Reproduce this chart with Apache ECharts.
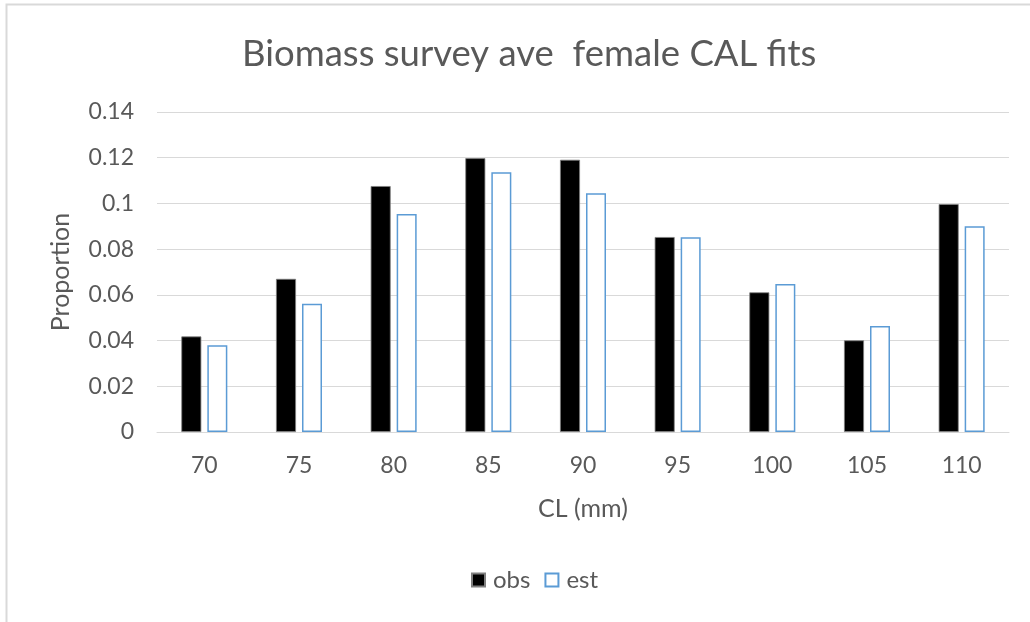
<!DOCTYPE html>
<html>
<head>
<meta charset="utf-8">
<script src="https://cdn.jsdelivr.net/npm/echarts@6/dist/echarts.min.js"></script>
<style>
html,body{margin:0;padding:0;background:#fff;}
#chart{width:1030px;height:622px;}
</style>
</head>
<body>
<div id="chart"></div>
<script>
const categories = ['70','75','80','85','90','95','100','105','110'];
const obs = [0.0418, 0.0670, 0.1076, 0.1198, 0.1191, 0.0853, 0.0611, 0.0401, 0.0997];
const est = [0.0380, 0.0561, 0.0954, 0.1136, 0.1044, 0.0852, 0.0647, 0.0464, 0.0900];
const yTicks = [0, 0.02, 0.04, 0.06, 0.08, 0.1, 0.12, 0.14];

const FONT = 'Lato';
const chart = echarts.init(document.getElementById('chart'));
chart.setOption({
  backgroundColor: '#fff',
  animation: false,
  title: {
    text: 'Biomass survey ave  female CAL fits',
    left: 237, top: 31,
    textStyle: {fontFamily: FONT, fontSize: 36.5, fontWeight: 'normal', color: '#595959'}
  },
  graphic: [{
    type: 'rect', shape: {x: 6.5, y: 4.5, width: 1040, height: 640},
    style: {fill: 'none', stroke: '#d9d9d9', lineWidth: 2}, silent: true
  }],
  legend: {
    bottom: 25, left: 466, itemWidth: 13, itemHeight: 13, itemGap: 14,
    textStyle: {fontFamily: FONT, fontSize: 24, color: '#595959', padding: [0, 0, 0, 3]},
    data: [{name: 'obs', icon: 'rect'}, {name: 'est', icon: 'rect'}]
  },
  grid: {left: 157, right: 21, top: 112, bottom: 190},
  xAxis: {
    type: 'category', data: categories,
    name: 'CL (mm)', nameLocation: 'middle', nameGap: 64,
    nameTextStyle: {fontFamily: FONT, fontSize: 25, color: '#595959'},
    axisLine: {lineStyle: {color: '#d9d9d9', width: 1}},
    axisTick: {show: false},
    axisLabel: {fontFamily: FONT, fontSize: 23, color: '#595959', margin: 22}
  },
  yAxis: {
    type: 'value', min: 0, max: 0.14, interval: 0.02,
    name: 'Proportion', nameLocation: 'middle', nameGap: 84, nameRotate: 90,
    nameTextStyle: {fontFamily: FONT, fontSize: 25, color: '#595959'},
    axisLine: {show: false}, axisTick: {show: false},
    splitLine: {lineStyle: {color: '#d9d9d9', width: 1}},
    axisLabel: {fontFamily: FONT, fontSize: 23, color: '#595959', margin: 23,
      formatter: v => { const t = yTicks.find(x => Math.abs(x - v) < 1e-9); return String(+((t === undefined ? v : t).toFixed(2))); }}
  },
  series: [
    {name: 'obs', type: 'bar', data: obs, barWidth: 20, barGap: '30%',
     itemStyle: {color: '#000', borderColor: '#7f7f7f', borderWidth: 0.8}},
    {name: 'est', type: 'bar', data: est, barWidth: 20,
     itemStyle: {color: '#fff', borderColor: '#5b9bd5', borderWidth: 1.5}}
  ]
});
</script>
</body>
</html>
